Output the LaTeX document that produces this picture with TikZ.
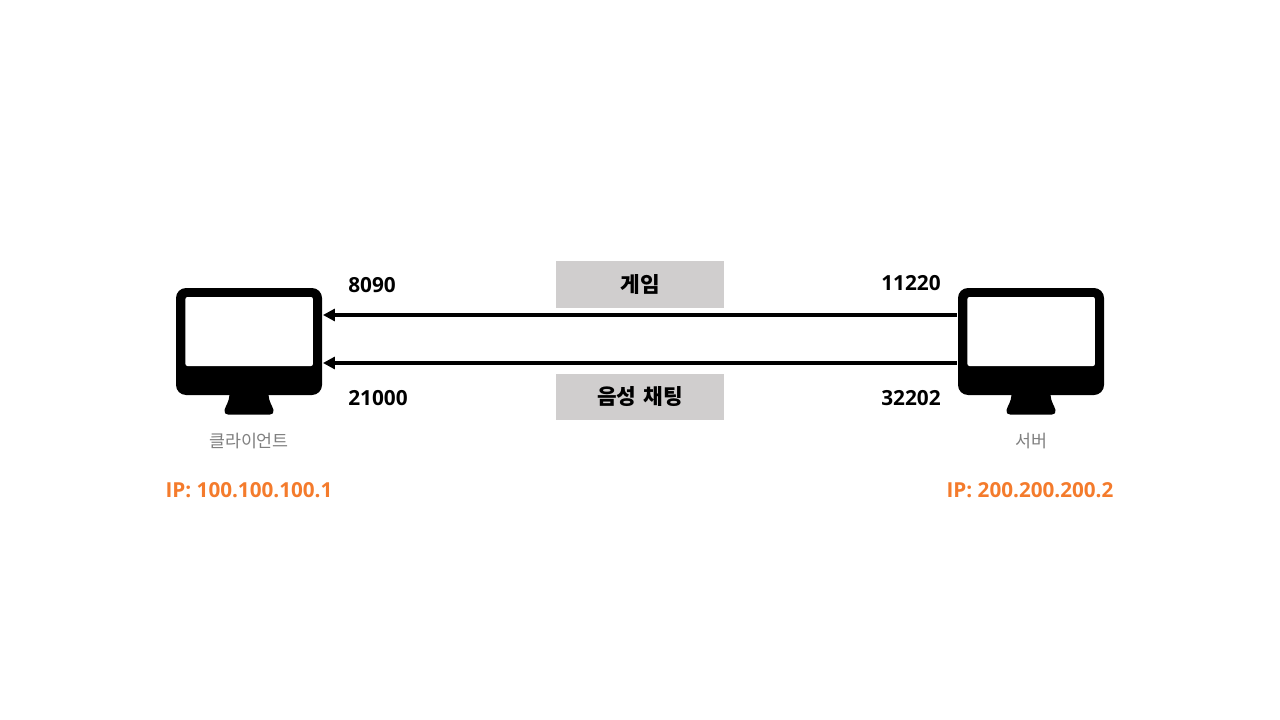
\documentclass[tikz,border=0pt]{standalone}
\usepackage{fontspec}
\setmainfont{Open Sans}
\newfontfamily\kr{Noto Sans CJK KR}
\usetikzlibrary{arrows.meta}
\definecolor{boxgray}{HTML}{D0CECE}
\definecolor{ipor}{HTML}{F47B2C}
\definecolor{capgray}{HTML}{7F7F7F}
\tikzset{
  px/.style={x=0.75pt,y=-0.75pt},
  body/.style={fill=black,rounded corners=7.5pt,minimum width=109.5pt,minimum height=80.25pt,inner sep=0,draw=none},
  screen/.style={fill=white,rounded corners=1.5pt,minimum width=95.6pt,minimum height=51.75pt,inner sep=0,draw=none},
  stand/.style={fill=black,draw=none},
  link/.style={line width=2.9pt,draw=black,-{Triangle[length=9pt,width=9pt]},shorten >=0.5pt,shorten <=0.75pt},
  port/.style={font=\fontsize{15.6}{18}\selectfont\bfseries,inner sep=0,anchor=west},
  tag/.style={fill=boxgray,minimum width=126pt,minimum height=34.8pt,inner sep=0,font=\kr\fontsize{16}{18}\selectfont\bfseries},
  caption/.style={font=\kr\fontsize{13}{15}\selectfont,text=capgray,inner sep=0},
  ip/.style={font=\fontsize{15.5}{18}\selectfont\bfseries,text=ipor,inner sep=0},
}
\begin{document}
\begin{tikzpicture}[px]
\useasboundingbox (0,0) rectangle (1280,720);
% client monitor
\fill[stand] (229.5,390) -- (268.5,390) -- (268.5,395) .. controls (269,402) and (272,405) .. (273.5,410) .. controls (274,413) and (272.5,414.5) .. (270,414.5) -- (228,414.5) .. controls (225.5,414.5) and (224,413) .. (224.5,410) .. controls (226,405) and (229,402) .. (229.5,395) -- cycle;
\node[body] (client) at (249,341.5) {};
\node[screen] (clientscreen) at (249.2,331.5) {};
% server monitor
\fill[stand] (1011.5,390) -- (1050.5,390) -- (1050.5,395) .. controls (1051,402) and (1054,405) .. (1055.5,410) .. controls (1056,413) and (1054.5,414.5) .. (1052,414.5) -- (1010,414.5) .. controls (1007.5,414.5) and (1006,413) .. (1006.5,410) .. controls (1008,405) and (1011,402) .. (1011.5,395) -- cycle;
\node[body] (server) at (1031,341.5) {};
\node[screen] (serverscreen) at (1031.2,331.5) {};
% connectors
\coordinate (top) at (640,315);
\coordinate (bot) at (640,363);
\draw[link] (server.west |- top) -- (client.east |- top);
\draw[link] (server.west |- bot) -- (client.east |- bot);
% tags
\node[tag] (game) at (640,284.5) {게임};
\node[tag] (voice) at (640,397) {음성\hspace{0.35em}채팅};
% ports
\node[port] (p1) at (348,285) {8090};
\node[port] (p2) at (348,398) {21000};
\node[port] (p3) at (881,283) {11220};
\node[port] (p4) at (881,398) {32202};
% captions
\node[caption] (clabel) at (249,441.5) {클라이언트};
\node[caption] (slabel) at (1031,441.5) {서버};
\node[ip] (cip) at (249,490) {IP: 100.100.100.1};
\node[ip] (sip) at (1030,490) {IP: 200.200.200.2};
\end{tikzpicture}
\end{document}
